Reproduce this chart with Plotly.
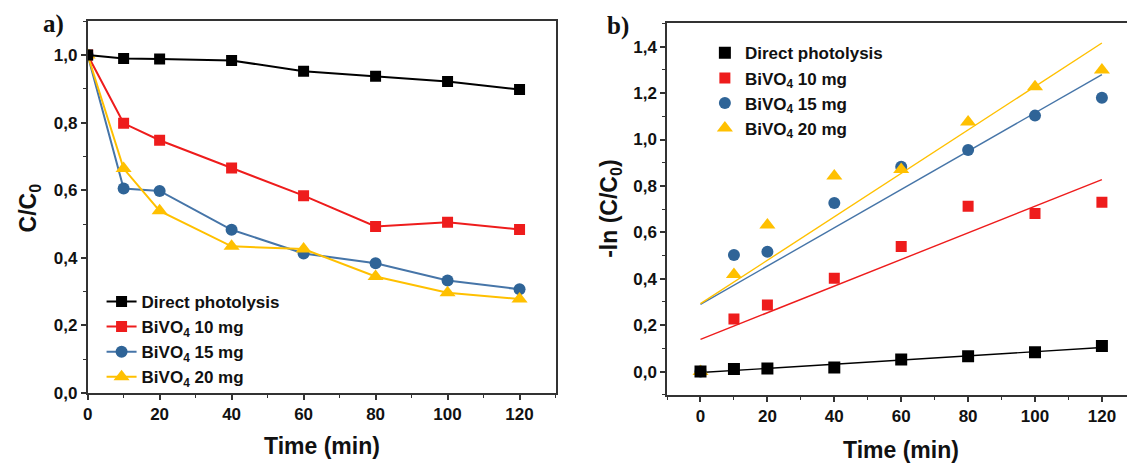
import numpy as np
import plotly.graph_objects as go

# ---------------- data ----------------
time_min = [0, 10, 20, 40, 60, 80, 100, 120]
series_names = ["Direct photolysis", "BiVO<sub>4</sub> 10 mg",
                "BiVO<sub>4</sub> 15 mg", "BiVO<sub>4</sub> 20 mg"]

# panel a: C/C0
cc0_direct = [1.000, 0.990, 0.988, 0.984, 0.952, 0.937, 0.922, 0.898]
cc0_10mg = [1.000, 0.798, 0.748, 0.666, 0.584, 0.493, 0.505, 0.484]
cc0_15mg = [1.000, 0.605, 0.598, 0.483, 0.413, 0.384, 0.333, 0.307]
cc0_20mg = [1.000, 0.664, 0.539, 0.434, 0.426, 0.345, 0.297, 0.278]

# panel b: -ln(C/C0)
ln_direct = [0.000, 0.011, 0.013, 0.018, 0.052, 0.066, 0.083, 0.110]
ln_10mg = [0.000, 0.227, 0.287, 0.402, 0.539, 0.712, 0.681, 0.730]
ln_15mg = [0.000, 0.502, 0.516, 0.726, 0.883, 0.955, 1.103, 1.180]
ln_20mg = [0.000, 0.418, 0.632, 0.843, 0.871, 1.075, 1.227, 1.300]

x_ticks = [0, 20, 40, 60, 80, 100, 120]

# ---------------- styles ----------------
colors = ["#000000", "#ee1c1c", "#2f6497", "#ffc000"]
line_colors = ["#000000", "#ee1c1c", "#4675a8", "#ffc000"]
symbols = ["square", "square", "circle", "triangle-up"]
msizes = [11, 11, 12, 14]
ranks = [1, 2, 3, 4]

W, H = 1127, 475
def px_x(p):
    return p / W
def px_y(p):
    return 1 - p / H

FONT = "Liberation Sans, Arial, sans-serif"
tickfont = dict(family=FONT, size=17, color="#111111", weight="bold")
axis_color = "#333333"

fig = go.Figure()

# panel a: draw order red, blue, yellow, black (black on top)
series_a = [cc0_direct, cc0_10mg, cc0_15mg, cc0_20mg]
for i in [1, 2, 3, 0]:
    fig.add_trace(go.Scatter(
        x=time_min, y=series_a[i], name=series_names[i],
        mode="lines+markers",
        line=dict(color=line_colors[i], width=2),
        marker=dict(symbol=symbols[i], size=msizes[i], color=colors[i],
                    line=dict(width=0)),
        xaxis="x", yaxis="y", legend="legend", legendrank=ranks[i]))

# panel b: fit lines (linear regression of data)
series_b = [ln_direct, ln_10mg, ln_15mg, ln_20mg]
t = np.array(time_min, dtype=float)
for i in [0, 1, 2, 3]:
    slope, icpt = np.polyfit(t, np.array(series_b[i]), 1)
    xf = [min(time_min), max(time_min)]
    fig.add_trace(go.Scatter(
        x=xf, y=[icpt + slope * v for v in xf], mode="lines",
        line=dict(color=line_colors[i], width=1.4),
        showlegend=False, hoverinfo="skip", xaxis="x2", yaxis="y2"))

for i in [1, 2, 3, 0]:
    fig.add_trace(go.Scatter(
        x=time_min, y=series_b[i], name=series_names[i],
        mode="markers",
        marker=dict(symbol=symbols[i], size=msizes[i] + (1 if i == 0 else 0),
                    color=colors[i], line=dict(width=0)),
        xaxis="x2", yaxis="y2", legend="legend2", legendrank=ranks[i]))

common_axis = dict(showgrid=False, zeroline=False, showline=True,
                   linecolor=axis_color, linewidth=1.6, ticks="outside",
                   ticklen=5, tickwidth=1.5, tickcolor=axis_color,
                   tickfont=tickfont)

# layout geometry in pixels
a_left, a_right, a_top, a_bottom = 83, 553, 21.7, 401.5
b_left, b_right, b_top, b_bottom = 665, 1127, 24, 403.3

fig.update_layout(
    width=W, height=H, margin=dict(l=0, r=0, t=0, b=0),
    paper_bgcolor="white", plot_bgcolor="white",
    separators=",.",
    showlegend=True,
    xaxis=dict(**common_axis, domain=[px_x(a_left), px_x(a_right)],
               range=[0, 130], tickvals=x_ticks, mirror=True, anchor="y",
               minor=dict(dtick=10, tick0=0, ticks="outside", ticklen=3,
                          tickwidth=1.3, tickcolor=axis_color)),
    yaxis=dict(**common_axis, domain=[px_y(a_bottom), px_y(a_top)],
               range=[0, 1.1], dtick=0.2, tick0=0, tickformat=".1f",
               mirror=True, anchor="x",
               minor=dict(dtick=0.1, tick0=0, ticks="outside", ticklen=3,
                          tickwidth=1.3, tickcolor=axis_color)),
    xaxis2=dict(**common_axis, domain=[px_x(b_left), px_x(b_right)],
                range=[-10, 127.5], tickvals=x_ticks, mirror=True, anchor="y2",
                minor=dict(dtick=10, tick0=0, ticks="outside", ticklen=3,
                           tickwidth=1.3, tickcolor=axis_color)),
    yaxis2=dict(**common_axis, domain=[px_y(b_bottom), px_y(b_top)],
                range=[-0.1, 1.5], dtick=0.2, tick0=0, tickformat=".1f",
                mirror=False, anchor="x2",
                minor=dict(dtick=0.1, tick0=0, ticks="outside", ticklen=3,
                           tickwidth=1.3, tickcolor=axis_color)),
    legend=dict(x=px_x(97), y=px_y(290), xanchor="left", yanchor="top",
                bgcolor="rgba(0,0,0,0)", borderwidth=0,
                font=dict(family=FONT, size=17, color="#111111", weight="bold"),
                itemwidth=30, tracegroupgap=0),
    legend2=dict(x=px_x(703), y=px_y(36), xanchor="left", yanchor="top",
                 bgcolor="rgba(0,0,0,0)", borderwidth=0,
                 font=dict(family=FONT, size=17, color="#111111", weight="bold"),
                 itemwidth=30, tracegroupgap=0),
)

title_font = dict(family=FONT, size=23, color="#111111", weight="bold")
label_font = dict(family="Liberation Serif, Times New Roman, serif", size=25,
                  color="#111111", weight="bold")

annotations = [
    dict(text="Time (min)", x=px_x(318), y=px_y(456), font=title_font),
    dict(text="Time (min)", x=px_x(900), y=px_y(460), font=title_font),
    dict(text="C/C<sub>0</sub>", x=px_x(25), y=px_y(212), font=title_font,
         textangle=-90),
    dict(text="-ln (C/C<sub>0</sub>)", x=px_x(608), y=px_y(213),
         font=title_font, textangle=-90),
    dict(text="a)", x=px_x(49), y=px_y(25), font=label_font),
    dict(text="b)", x=px_x(616), y=px_y(27), font=label_font),
]
for a in annotations:
    fig.add_annotation(xref="paper", yref="paper", showarrow=False,
                       xanchor="center", yanchor="middle", **a)

fig.write_html("out.html")
